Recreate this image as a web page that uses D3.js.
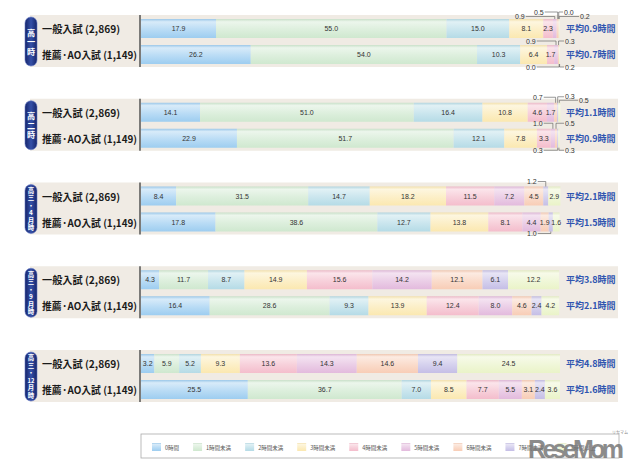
<html>
<head>
<meta charset="utf-8">
<script src="https://d3js.org/d3.v7.min.js"></script>
<style>
  body { margin: 0; background: #fff; }
  text { font-family: "Liberation Sans", Arial, sans-serif; }
  .jp { font-family: "Noto Sans CJK JP", sans-serif; }
</style>
</head>
<body>
<script>

// categories (hours of study per day)
const cats = ["0時間", "1時間未満", "2時間未満", "3時間未満", "4時間未満", "5時間未満", "6時間未満", "7時間未満", "7時間以上"];
const catColors = ["#9dcdf0", "#cfe8cf", "#b5dbe6", "#fbe8b0", "#f4bdcc", "#e3badd", "#f8cdb6", "#c5bee6", "#eaf3c8"];

// period labels (vertical pill text)
const periods = [
  ["高", "一", "時"],
  ["高", "二", "時"],
  ["高", "三", "・", "4", "月", "時"],
  ["高", "三", "・", "9", "月", "時"],
  ["高", "三", "・", "12", "月", "時"]
];
const groups = ["一般入試 (2,869)", "推薦·AO入試 (1,149)"];

// percentages per period, in cats order
const general = [
  [17.9, 55.0, 15.0, 8.1, 2.3, 0.9, 0.5, 0.0, 0.2],
  [14.1, 51.0, 16.4, 10.8, 4.6, 1.7, 0.7, 0.3, 0.5],
  [8.4, 31.5, 14.7, 18.2, 11.5, 7.2, 4.5, 1.2, 2.9],
  [4.3, 11.7, 8.7, 14.9, 15.6, 14.2, 12.1, 6.1, 12.2],
  [3.2, 5.9, 5.2, 9.3, 13.6, 14.3, 14.6, 9.4, 24.5]
];
const suisen = [
  [26.2, 54.0, 10.3, 6.4, 1.7, 0.9, 0.3, 0.0, 0.2],
  [22.9, 51.7, 12.1, 7.8, 3.3, 1.0, 0.5, 0.3, 0.3],
  [17.8, 38.6, 12.7, 13.8, 8.1, 4.4, 1.9, 1.0, 1.6],
  [16.4, 28.6, 9.3, 13.9, 12.4, 8.0, 4.6, 2.4, 4.2],
  [25.5, 36.7, 7.0, 8.5, 7.7, 5.5, 3.1, 2.4, 3.6]
];
const avgGeneral = [0.9, 1.1, 2.1, 3.8, 4.8];
const avgSuisen = [0.7, 0.9, 1.5, 2.1, 1.6];

// small segments labelled outside the bar: period, row, category, side, label x, distance from bar
const callouts = [
  {p: 0, r: 0, c: 5, side: "t", lx: 515, dy: 2.5},
  {p: 0, r: 0, c: 6, side: "t", lx: 534, dy: 7},
  {p: 0, r: 0, c: 7, side: "t", lx: 564, dy: 7},
  {p: 0, r: 0, c: 8, side: "t", lx: 580, dy: 2.5},
  {p: 0, r: 1, c: 5, side: "t", lx: 526, dy: 4},
  {p: 0, r: 1, c: 6, side: "t", lx: 565, dy: 4},
  {p: 0, r: 1, c: 7, side: "b", lx: 526, dy: 3},
  {p: 0, r: 1, c: 8, side: "b", lx: 565, dy: 3},
  {p: 1, r: 0, c: 6, side: "t", lx: 533, dy: 5.5},
  {p: 1, r: 0, c: 7, side: "t", lx: 565, dy: 6},
  {p: 1, r: 0, c: 8, side: "t", lx: 579, dy: 2.5},
  {p: 1, r: 1, c: 5, side: "t", lx: 533, dy: 5.5},
  {p: 1, r: 1, c: 6, side: "t", lx: 565, dy: 5.5},
  {p: 1, r: 1, c: 7, side: "b", lx: 533, dy: 2.5},
  {p: 1, r: 1, c: 8, side: "b", lx: 565, dy: 2.5},
  {p: 2, r: 0, c: 7, side: "t", lx: 527, dy: 5},
  {p: 2, r: 1, c: 7, side: "b", lx: 527, dy: 2}
];

const W = 640, H = 468;
const svg = d3.select("body").append("svg").attr("width", W).attr("height", H);

const x = d3.scaleLinear().domain([0, 100]).range([141, 560]);
const py = d3.scalePoint().domain(d3.range(periods.length)).range([15, 350]);
const rowOff = [4, 30], barH = 19, panelH = 52;
const groupW = [78, 95];

// bar gradients
const defs = svg.append("defs");
catColors.forEach((c, k) => {
  const g = defs.append("linearGradient").attr("id", "g" + k)
    .attr("x1", 0).attr("y1", 0).attr("x2", 0).attr("y2", 1);
  g.append("stop").attr("offset", "0%").attr("stop-color", d3.interpolateRgb(c, "#888")(0.08));
  g.append("stop").attr("offset", "15%").attr("stop-color", d3.interpolateRgb(c, "#fff")(0.6));
  g.append("stop").attr("offset", "55%").attr("stop-color", d3.interpolateRgb(c, "#fff")(0.3));
  g.append("stop").attr("offset", "100%").attr("stop-color", c);
});
const pill = defs.append("linearGradient").attr("id", "pill").attr("x1", 0).attr("x2", 1);
pill.append("stop").attr("offset", "0%").attr("stop-color", "#16256a");
pill.append("stop").attr("offset", "50%").attr("stop-color", "#3550a8");
pill.append("stop").attr("offset", "100%").attr("stop-color", "#16256a");

periods.forEach((chars, i) => {
  const top = py(i);
  const g = svg.append("g");

  g.append("rect").attr("x", 30).attr("y", top).attr("width", 588).attr("height", panelH)
    .attr("fill", "#f0ebe4");

  // pill
  g.append("rect").attr("x", 25).attr("y", top + 2).attr("width", 12).attr("height", panelH - 3)
    .attr("rx", 6).attr("fill", "url(#pill)").attr("stroke", "#6478c4").attr("stroke-width", 0.6);
  const step = Math.min(9.5, 45 / chars.length);
  const fs = step * 0.86;
  const cy = top + 2 + (panelH - 3) / 2;
  chars.forEach((ch, k) => {
    g.append("text").attr("class", "jp")
      .attr("x", 31).attr("y", cy + (k - (chars.length - 1) / 2) * step)
      .attr("text-anchor", "middle").attr("dominant-baseline", "central")
      .attr("font-size", ch.length > 1 ? fs * 0.9 : fs).attr("font-weight", "bold")
      .attr("fill", "#fff").text(ch);
  });

  const rows = [general[i], suisen[i]];
  const avgs = [avgGeneral[i], avgSuisen[i]];
  rows.forEach((vals, r) => {
    const by = top + rowOff[r];
    const mid = by + barH / 2;
    const ends = d3.cumsum(vals);
    const segs = vals.map((v, k) => ({v, k, x0: ends[k] - v, x1: ends[k]}));
    const outside = callouts.filter(d => d.p === i && d.r === r);

    g.append("text").attr("class", "jp").attr("x", 42).attr("y", mid)
      .attr("dominant-baseline", "central").attr("font-size", 10).attr("font-weight", "bold")
      .attr("textLength", groupW[r]).attr("lengthAdjust", "spacingAndGlyphs")
      .attr("fill", "#1a1a1a").text(groups[r]);

    g.selectAll(null).data(segs).join("rect")
      .attr("x", d => x(d.x0)).attr("y", by)
      .attr("width", d => x(d.x1) - x(d.x0)).attr("height", barH)
      .attr("fill", d => "url(#g" + d.k + ")");

    g.selectAll(null).data(segs.filter(d => !outside.some(o => o.c === d.k))).join("text")
      .attr("x", d => x((d.x0 + d.x1) / 2)).attr("y", mid)
      .attr("text-anchor", "middle").attr("dominant-baseline", "central")
      .attr("font-size", 7).attr("fill", "#333").text(d => d.v.toFixed(1));

    outside.forEach(o => {
      const s = segs[o.c];
      const sx = x((s.x0 + s.x1) / 2);
      const edge = o.side === "t" ? by : by + barH;
      const level = o.side === "t" ? by - o.dy : by + barH + o.dy;
      const t = g.append("text").attr("x", o.lx).attr("y", level)
        .attr("dominant-baseline", "central").attr("font-size", 7).attr("fill", "#333")
        .text(s.v.toFixed(1));
      const tw = t.node().getComputedTextLength();
      const endX = o.lx < sx ? o.lx + tw + 1 : o.lx - 1;
      g.append("path").attr("d", `M${sx},${edge}V${level}H${endX}`)
        .attr("fill", "none").attr("stroke", "#555").attr("stroke-width", 0.6);
    });

    g.append("text").attr("class", "jp").attr("x", 566).attr("y", mid)
      .attr("dominant-baseline", "central").attr("font-size", 9).attr("font-weight", "bold")
      .attr("fill", "#2f55b0").text("平均" + avgs[r].toFixed(1) + "時間");
  });

  g.append("line").attr("x1", 140).attr("x2", 140).attr("y1", top).attr("y2", top + panelH)
    .attr("stroke", "#555").attr("stroke-width", 1.5);
});

// legend
svg.append("rect").attr("x", 141).attr("y", 434).attr("width", 478).attr("height", 24)
  .attr("fill", "#fff").attr("stroke", "#aaa").attr("stroke-width", 0.8);
let lx = 152;
cats.forEach((c, k) => {
  svg.append("rect").attr("x", lx).attr("y", 443).attr("width", 9).attr("height", 8)
    .attr("fill", "url(#g" + k + ")");
  const t = svg.append("text").attr("class", "jp").attr("x", lx + 13).attr("y", 447.5)
    .attr("dominant-baseline", "central").attr("font-size", 5.5).attr("fill", "#555").text(c);
  lx += 13 + t.node().getComputedTextLength() + 14;
});

// site watermark
svg.append("text").attr("x", 528).attr("y", 458).attr("font-size", 25).attr("font-weight", "bold")
  .attr("fill", "#777").attr("opacity", 0.85).attr("textLength", 96).text("ReseMom");
svg.append("text").attr("class", "jp").attr("x", 612).attr("y", 434).attr("font-size", 4)
  .attr("fill", "#888").text("リセマム");

</script>
</body>
</html>
